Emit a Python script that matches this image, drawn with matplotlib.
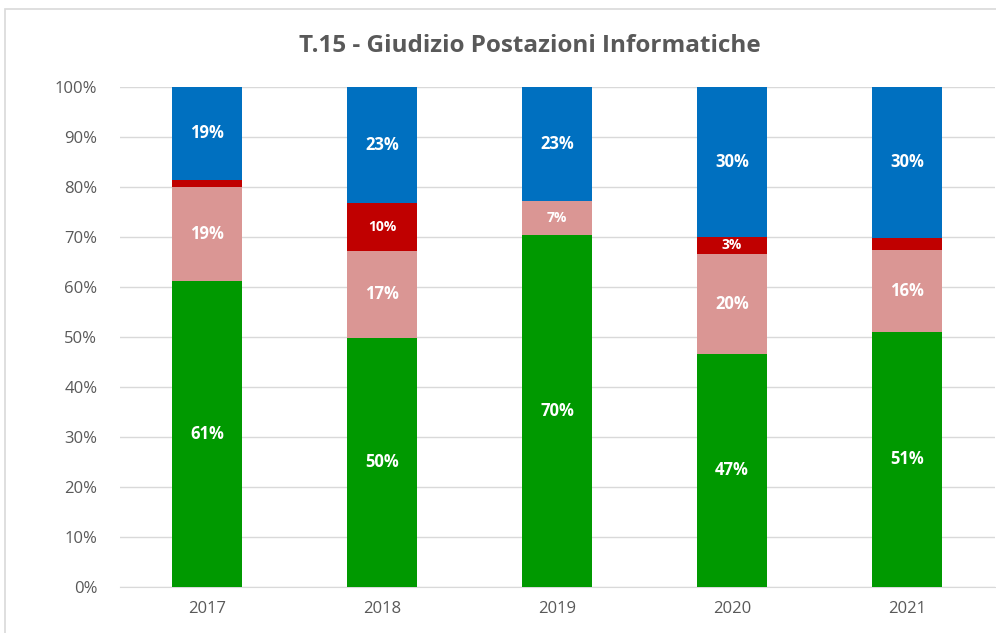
import numpy as np
import matplotlib.pyplot as plt
from matplotlib.patches import Rectangle

plt.rcParams['font.family'] = ['Open Sans', 'DejaVu Sans']

anni = ['2017', '2018', '2019', '2020', '2021']
verde = [61.2, 49.8, 70.4, 46.6, 51.0]
rosa = [18.8, 17.4, 6.8, 20.0, 16.4]
rosso = [1.4, 9.6, 0.0, 3.4, 2.4]
blu = [18.6, 23.2, 22.8, 30.0, 30.2]

serie = [verde, rosa, rosso, blu]
colori = ['#009900', '#DA9694', '#C00000', '#0070C0']

fig = plt.figure(figsize=(9.96, 6.33), dpi=100)
ax = fig.add_axes([0.12, 0.073, 0.8785, 0.79])
fig.patches.append(Rectangle((0.005, -0.01), 1.1, 0.995, transform=fig.transFigure,
                             fill=False, edgecolor='#D9D9D9', lw=1.2))

x = np.arange(len(anni))
base = np.zeros(len(anni))
for vals, col in zip(serie, colori):
    vals = np.array(vals)
    ax.bar(x, vals, 0.4, bottom=base, color=col, zorder=3)
    for xi, b, v in zip(x, base, vals):
        if v >= 3:
            fs = 10 if v < 12 else 12
            ax.text(xi, b + v / 2, f'{round(v):.0f}%', ha='center', va='center',
                    color='white', fontsize=fs, fontweight='bold', zorder=4)
    base += vals

ax.set_xlim(-0.5, len(anni) - 0.5)
ax.set_ylim(0, 100)
ax.set_yticks(np.arange(0, 101, 10))
ax.set_yticklabels([f'{v}%' for v in range(0, 101, 10)])
ax.set_xticks(x)
ax.set_xticklabels(anni)
ax.grid(axis='y', color='#D9D9D9', lw=1, zorder=0)
for s in ['top', 'right', 'left']:
    ax.spines[s].set_visible(False)
ax.spines['bottom'].set_color('#D9D9D9')
ax.tick_params(length=0, labelsize=12, labelcolor='#595959')
ax.tick_params(axis='x', pad=10)
ax.tick_params(axis='y', pad=16)

fig.text(0.532, 0.927, 'T.15 - Giudizio Postazioni Informatiche', ha='center', va='center',
         fontsize=17.5, fontweight='bold', color='#595959')

fig.savefig('out.png', dpi=100)
